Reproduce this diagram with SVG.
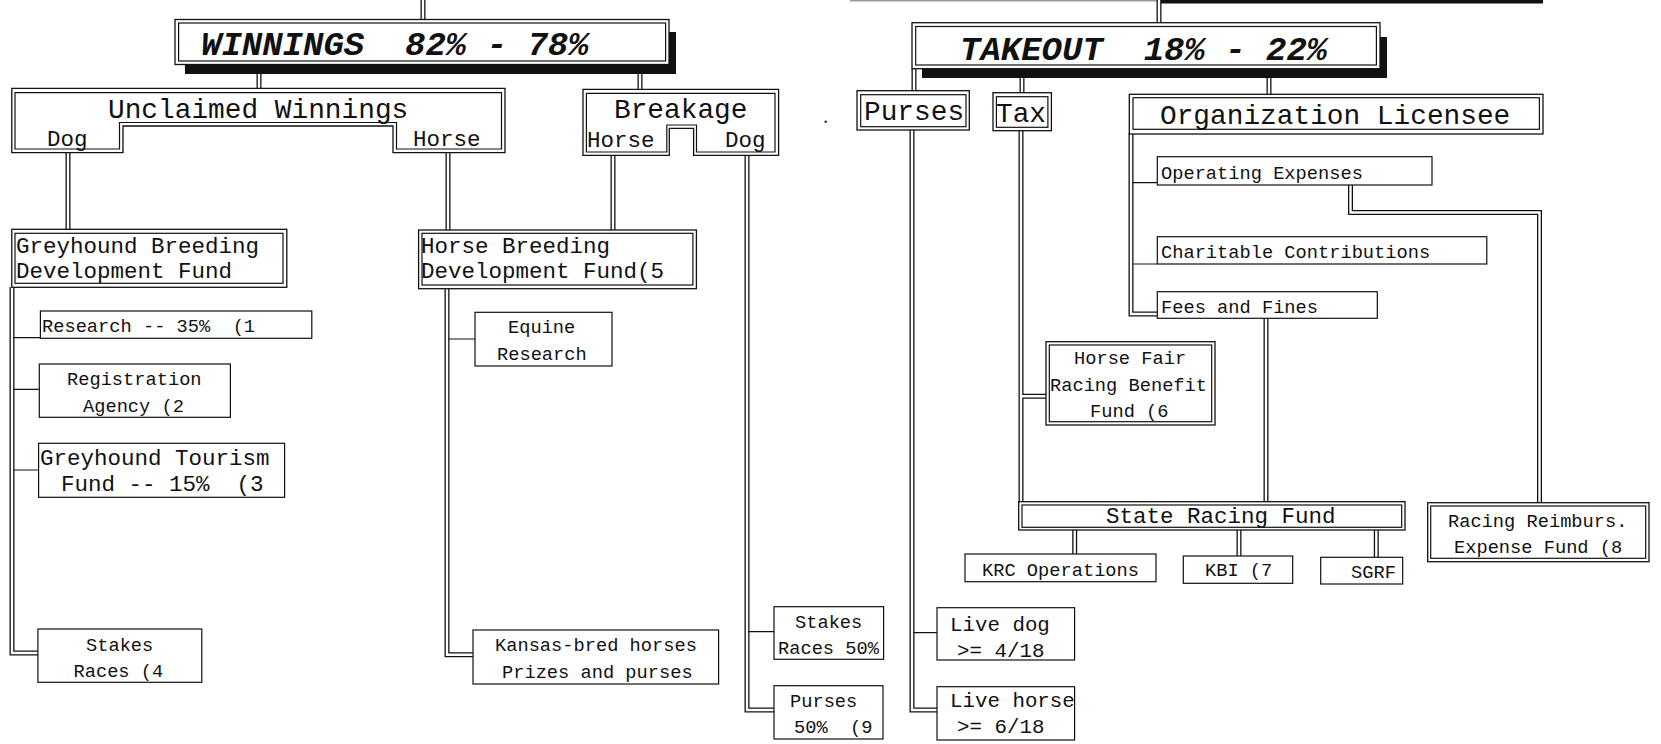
<svg xmlns="http://www.w3.org/2000/svg" width="1661" height="744" viewBox="0 0 1661 744">
<style>
.o{fill:#fff;stroke:#111;stroke-width:1.3}
.i{fill:none;stroke:#111;stroke-width:1.2}
.s{fill:#fff;stroke:#111;stroke-width:1.2}
.cb{fill:none;stroke:#111;stroke-width:5}
.cw{fill:none;stroke:#fff;stroke-width:2.4}
.br{fill:none;stroke:#111;stroke-width:1.2}
text{font-family:"Liberation Mono","Courier New",monospace;fill:#111}
.f1{font-size:18.7px}
.f2{font-size:22.5px}
.f3{font-size:27.8px}
.f4{font-size:20.8px}
.ti{font-size:34px;font-weight:bold;font-style:italic}
</style>
<defs>
<path id="c1" d="M423,0 V20"/>
<path id="c2" d="M1159,0 V23"/>
<path id="c3" d="M259,74 V89"/>
<path id="c4" d="M640,74 V90"/>
<path id="c5" d="M68,152 V230"/>
<path id="c6" d="M448,152 V231"/>
<path id="c7" d="M613,155 V231"/>
<path id="c8" d="M747,155 V710 H774"/>
<path id="c9" d="M912,130 V710 H937"/>
<path id="c10" d="M914,68 V91"/>
<path id="c11" d="M1022,78 V93"/>
<path id="c12" d="M1269,78 V94.5"/>
<path id="c13" d="M1021,130 V503 M1021,396.3 H1046"/>
<path id="c14" d="M1266,318 V503"/>
<path id="c15" d="M1074.7,529 V554 M1239,529 V556 M1376.3,529 V557"/>
<path id="c16" d="M1131,133 V314 H1157.3"/>
<path id="c17" d="M1350.5,185 V212.5 H1539.5 V503"/>
<path id="c18" d="M12,287 V653 H38"/>
<path id="c19" d="M447,288 V654.7 H473"/>
</defs>
<rect width="1661" height="744" fill="#fff"/>
<g id="top-edge">
<rect x="850" y="0" width="309" height="1.5" fill="#999"/>
<rect x="1159" y="0" width="384" height="3.5" fill="#111"/>
<circle cx="825.7" cy="121.7" r="1.3" fill="#333"/>
</g>
<g id="connectors">
<g class="cb">
<use href="#c1"/><use href="#c2"/><use href="#c3"/><use href="#c4"/><use href="#c5"/>
<use href="#c6"/><use href="#c7"/><use href="#c8"/><use href="#c9"/><use href="#c10"/>
<use href="#c11"/><use href="#c12"/><use href="#c13"/><use href="#c14"/><use href="#c15"/>
<use href="#c16"/><use href="#c17"/><use href="#c18"/><use href="#c19"/>
</g>
<g class="cw">
<use href="#c1"/><use href="#c2"/><use href="#c3"/><use href="#c4"/><use href="#c5"/>
<use href="#c6"/><use href="#c7"/><use href="#c8"/><use href="#c9"/><use href="#c10"/>
<use href="#c11"/><use href="#c12"/><use href="#c13"/><use href="#c14"/><use href="#c15"/>
<use href="#c16"/><use href="#c17"/><use href="#c18"/><use href="#c19"/>
</g>
<path class="br" d="M13.5,337.7 H40.4 M13.5,389.3 H39.3 M13.5,470 H38.6 M448.5,339 H475 M748.5,631.7 H774 M913.5,632.7 H937 M1132.5,182.7 H1157.3 M1132.5,264 H1157.3"/>
</g>
<g id="winnings">
<rect x="185" y="32" width="491" height="42" fill="#111"/>
<rect class="o" x="175" y="19.5" width="494" height="45"/>
<rect class="i" x="178.6" y="23" width="487" height="38"/>
<text class="ti" x="201" y="54.5" xml:space="preserve">WINNINGS  82% - 78%</text>
</g>
<g id="takeout">
<rect x="922" y="37" width="465" height="41" fill="#111"/>
<rect class="o" x="912" y="22.7" width="468" height="46"/>
<rect class="i" x="915.7" y="26.5" width="460.7" height="38.5"/>
<text class="ti" x="960" y="60" xml:space="preserve">TAKEOUT  18% - 22%</text>
</g>
<g id="unclaimed">
<path class="o" d="M11.8,88.3 H505 V152.7 H393 V126 H123 V152.7 H11.8 Z"/>
<path class="i" d="M15,92.7 H501.5 V149 H396.5 V122.5 H119.5 V149 H15 Z"/>
<text class="f3" x="108" y="117.5">Unclaimed Winnings</text>
<text class="f2" x="47" y="145.7">Dog</text>
<text class="f2" x="413" y="145.7">Horse</text>
</g>
<g id="breakage">
<path class="o" d="M583,89.3 H778.6 V155.3 H693.6 V128.3 H669.3 V155.3 H583 Z"/>
<path class="i" d="M586.4,93.3 H775 V152 H696.5 V125 H666.8 V152 H586.4 Z"/>
<text class="f3" x="614" y="118.3">Breakage</text>
<text class="f2" x="587" y="147.3">Horse</text>
<text class="f2" x="725" y="147.3">Dog</text>
</g>
<g id="purses">
<rect class="o" x="857" y="90.7" width="112.3" height="39.3"/>
<rect class="i" x="860.7" y="94.7" width="105.3" height="32"/>
<text class="f3" x="864" y="120">Purses</text>
</g>
<g id="tax">
<rect class="o" x="993" y="92.7" width="58.4" height="38"/>
<rect class="i" x="996.4" y="96.7" width="51.5" height="30.6"/>
<text class="f3" x="996" y="121.7">Tax</text>
</g>
<g id="org-licensee">
<rect class="o" x="1129.3" y="94.3" width="413.7" height="39.7"/>
<rect class="i" x="1133" y="97.7" width="406.4" height="31.6"/>
<text class="f3" x="1160" y="124">Organization Licensee</text>
</g>
<g id="greyhound-breeding">
<rect class="o" x="11.8" y="229.3" width="275" height="58"/>
<rect class="i" x="15" y="233.3" width="268" height="50"/>
<text class="f2" x="16" y="252.7">Greyhound Breeding</text>
<text class="f2" x="16" y="278.3">Development Fund</text>
</g>
<g id="horse-breeding">
<rect class="o" x="418.6" y="230" width="277.8" height="58.7"/>
<rect class="i" x="422" y="233.3" width="270.9" height="51.7"/>
<text class="f2" x="421" y="252.7">Horse Breeding</text>
<text class="f2" x="421" y="278.3">Development Fund(5</text>
</g>
<g id="research">
<rect class="s" x="40.4" y="311" width="271.4" height="27.3"/>
<text class="f1" x="42" y="332.3" xml:space="preserve">Research -- 35%  (1</text>
</g>
<g id="registration">
<rect class="s" x="39.3" y="364" width="191.1" height="53.3"/>
<text class="f1" x="67" y="385">Registration</text>
<text class="f1" x="83" y="411.7">Agency (2</text>
</g>
<g id="tourism">
<rect class="s" x="38.6" y="443.3" width="246" height="54"/>
<text class="f2" x="40" y="465">Greyhound Tourism</text>
<text class="f2" x="61" y="491" xml:space="preserve">Fund -- 15%  (3</text>
</g>
<g id="stakes-4">
<rect class="s" x="37.9" y="629" width="163.9" height="53.3"/>
<text class="f1" x="86" y="650.7">Stakes</text>
<text class="f1" x="73.5" y="676.7">Races (4</text>
</g>
<g id="equine">
<rect class="s" x="475" y="312.3" width="137" height="53.7"/>
<text class="f1" x="508" y="333.3">Equine</text>
<text class="f1" x="497" y="360">Research</text>
</g>
<g id="kansas-bred">
<rect class="s" x="473" y="630" width="245.6" height="54"/>
<text class="f1" x="495" y="651">Kansas-bred horses</text>
<text class="f1" x="502" y="678.3">Prizes and purses</text>
</g>
<g id="stakes-50">
<rect class="s" x="774" y="606.7" width="109.6" height="52.6"/>
<text class="f1" x="795" y="627.7">Stakes</text>
<text class="f1" x="778" y="654">Races 50%</text>
</g>
<g id="purses-9">
<rect class="s" x="774" y="685.7" width="109" height="53.3"/>
<text class="f1" x="790" y="706.7">Purses</text>
<text class="f1" x="794" y="732.7" xml:space="preserve">50%  (9</text>
</g>
<g id="live-dog">
<rect class="s" x="937" y="607.7" width="137.6" height="52.3"/>
<text class="f4" x="950" y="630.7">Live dog</text>
<text class="f4" x="957" y="656.7">&gt;= 4/18</text>
</g>
<g id="live-horse">
<rect class="s" x="937" y="686.7" width="137.6" height="53.3"/>
<text class="f4" x="950" y="706.7">Live horse</text>
<text class="f4" x="957" y="733.3">&gt;= 6/18</text>
</g>
<g id="operating">
<rect class="s" x="1157.3" y="156.7" width="274.7" height="28.3"/>
<text class="f1" x="1161" y="179.3">Operating Expenses</text>
</g>
<g id="charitable">
<rect class="s" x="1157.3" y="236.7" width="329.5" height="27.3"/>
<text class="f1" x="1161" y="258.3">Charitable Contributions</text>
</g>
<g id="fees">
<rect class="s" x="1157.3" y="291.7" width="220" height="26.6"/>
<text class="f1" x="1161" y="312.7">Fees and Fines</text>
</g>
<g id="horse-fair">
<rect class="o" x="1046" y="341.7" width="169" height="83.3"/>
<rect class="i" x="1049.3" y="345" width="162.4" height="76.7"/>
<text class="f1" x="1074" y="364">Horse Fair</text>
<text class="f1" x="1050" y="390.7">Racing Benefit</text>
<text class="f1" x="1090" y="416.7">Fund (6</text>
</g>
<g id="state-racing-fund">
<rect class="o" x="1018.7" y="501.7" width="386.3" height="28.3"/>
<rect class="i" x="1022" y="505" width="379.7" height="22.3"/>
<text class="f2" x="1106" y="522.7">State Racing Fund</text>
</g>
<g id="krc">
<rect class="s" x="965" y="554" width="191" height="27.7"/>
<text class="f1" x="982" y="576">KRC Operations</text>
</g>
<g id="kbi">
<rect class="s" x="1183.3" y="556" width="109.4" height="27.3"/>
<text class="f1" x="1205" y="576">KBI (7</text>
</g>
<g id="sgrf">
<rect class="s" x="1320.7" y="557.3" width="82" height="26.7"/>
<text class="f1" x="1351" y="578.3">SGRF</text>
</g>
<g id="reimburs">
<rect class="o" x="1427.7" y="502.7" width="221.3" height="59"/>
<rect class="i" x="1430.7" y="506" width="215" height="52.3"/>
<text class="f1" x="1448" y="526.7">Racing Reimburs.</text>
<text class="f1" x="1454" y="553.3">Expense Fund (8</text>
</g>
</svg>
